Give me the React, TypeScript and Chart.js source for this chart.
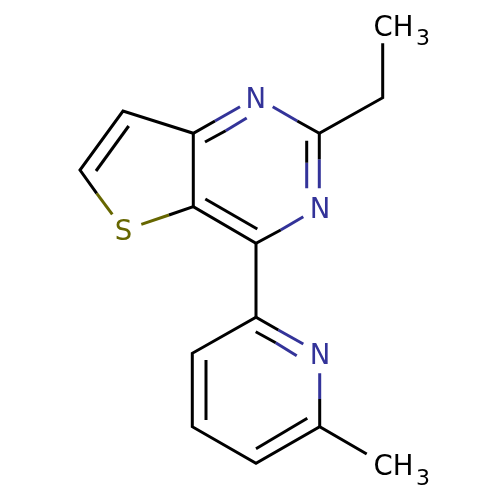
import React, { useEffect, useRef } from "react";
import { Chart, registerables } from "chart.js";

Chart.register(...registerables);

// Each entry is one stroke: x1, y1, x2, y2, ... in picture units (0-500, y downwards)
const blackBonds: number[][] = [
  [96.7, 193.3, 80, 170, 123, 111, 193.3, 133.3, 215, 121],
  [193.3, 133.3, 193.3, 206.7],
  [169, 215, 193.3, 206.7, 256, 243.3, 280.7, 230],
  [256, 243.3, 256, 317.3],
  [297.3, 121, 319.3, 133.3, 382.7, 97.7, 382.7, 43.3],
  [319.3, 133.3, 319.3, 159.3],
  [278.3, 330, 256, 317.3, 192.3, 353.3, 192.3, 426.7, 256, 463.3, 319.7, 426.7, 366.7, 454],
  [319.7, 399, 319.7, 426.7],
  [96, 171, 128.7, 126],
  [205, 142, 225.7, 130.7],
  [306.7, 140.7, 306.7, 162.7],
  [257.3, 229, 205.3, 199],
  [255.7, 331.7, 275.7, 342.7],
  [307.3, 418.3, 256, 448.7],
  [206, 420, 206, 360],
];
const blueBonds: number[][] = [
  [215, 121, 240, 106.7],
  [225.7, 130.7, 246.7, 118],
  [272.7, 106.7, 297.3, 121],
  [319.3, 159.3, 319.3, 188.3],
  [306.7, 162.7, 306.7, 188.3],
  [303.3, 216.7, 280.7, 230],
  [278.3, 330, 303.3, 344],
  [275.7, 342.7, 296.7, 355.7],
  [319.7, 373.3, 319.7, 399],
];
const oliveBonds: number[][] = [
  [96.7, 193.3, 112.3, 214.3],
  [141.3, 224.3, 169, 215],
];

const atomTexts = ["N", "N", "N", "S", "CH", "3", "CH", "3"];
const atomX = [255.7, 320, 320, 123.6, 373.5, 416, 373.5, 416];
const atomY = [108.3, 218.3, 364.3, 240.3, 36, 45, 475, 485];
const atomColors = ["#333399", "#333399", "#333399", "#666600", "#000000", "#000000", "#000000", "#000000"];
const atomFontSizes = [27.5, 27.5, 27.5, 27.5, 27.5, 22, 27.5, 22];
const atomAligns = ["center", "center", "center", "center", "left", "left", "left", "left"];

const bondDatasets = (bonds: number[][], color: string) =>
  bonds.map((b) => ({
    data: b.flatMap((v, i) => (i % 2 === 0 ? [{ x: v, y: b[i + 1] }] : [])),
    showLine: true,
    borderColor: color,
    backgroundColor: color,
    borderWidth: 3,
    borderCapStyle: "butt" as const,
    borderJoinStyle: "miter" as const,
    pointRadius: 0,
    pointHoverRadius: 0,
    tension: 0,
  }));

const atomLabels = {
  id: "atomLabels",
  afterDatasetsDraw(chart: any) {
    const { ctx, scales } = chart;
    ctx.save();
    ctx.textBaseline = "alphabetic";
    atomTexts.forEach((t, i) => {
      ctx.font = `${atomFontSizes[i]}px "DejaVu Sans"`;
      ctx.fillStyle = atomColors[i];
      ctx.textAlign = atomAligns[i];
      ctx.fillText(t, scales.x.getPixelForValue(atomX[i]), scales.y.getPixelForValue(atomY[i]));
    });
    ctx.restore();
  },
};

export default function App() {
  const ref = useRef<HTMLCanvasElement>(null);
  useEffect(() => {
    const chart = new Chart(ref.current!, {
      type: "scatter",
      data: {
        datasets: [
          ...bondDatasets(blackBonds, "#000000"),
          ...bondDatasets(blueBonds, "#333399"),
          ...bondDatasets(oliveBonds, "#666600"),
        ],
      },
      options: {
        animation: false,
        responsive: false,
        layout: { padding: 0 },
        plugins: { legend: { display: false }, tooltip: { enabled: false } },
        scales: {
          x: { type: "linear", min: 0, max: 500, display: false },
          y: { type: "linear", min: 0, max: 500, reverse: true, display: false },
        },
      },
      plugins: [atomLabels],
    });
    return () => chart.destroy();
  }, []);
  return (
    <canvas
      ref={ref}
      width={500}
      height={500}
      style={{ position: "fixed", left: 0, top: 0, width: 500, height: 500, display: "block", background: "#fff" }}
    />
  );
}
